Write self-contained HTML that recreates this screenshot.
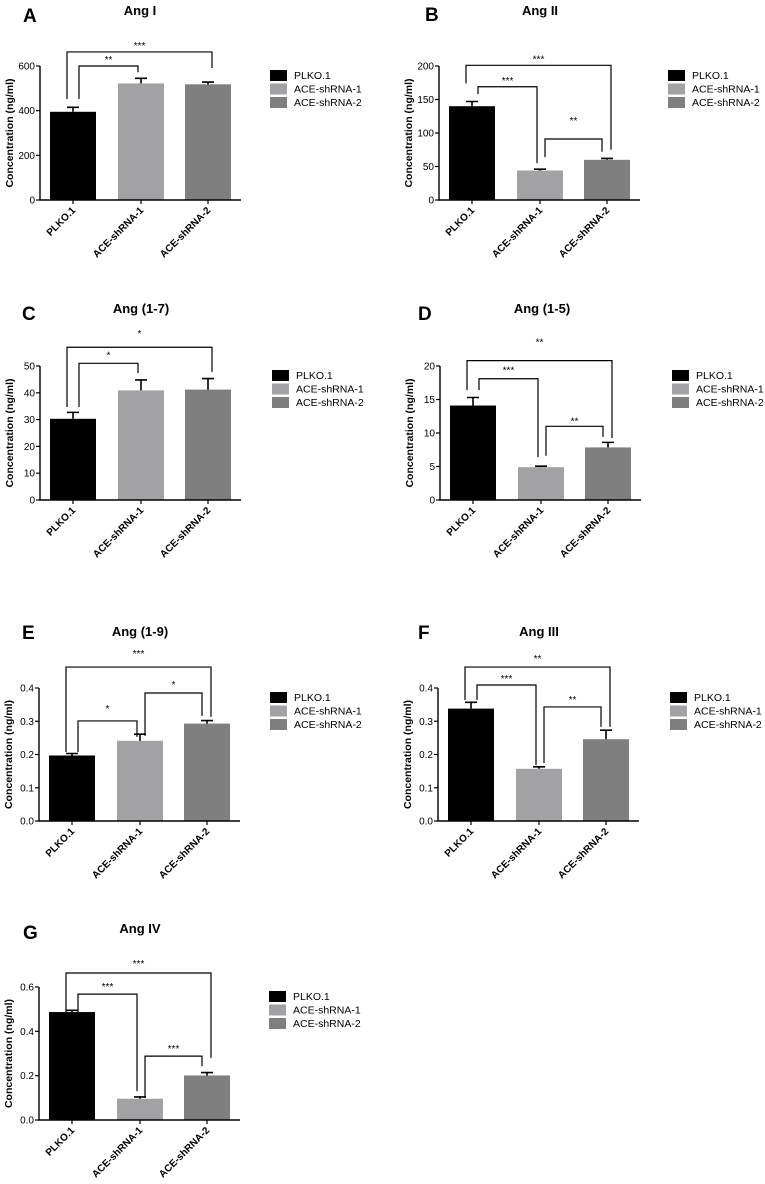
<!DOCTYPE html>
<html><head><meta charset="utf-8">
<style>
html,body{margin:0;padding:0;background:#fff;}
svg{display:block;font-family:"Liberation Sans",Arial,sans-serif;}
</style></head>
<body>
<svg id="fig" width="765" height="1184" viewBox="0 0 765 1184" xmlns="http://www.w3.org/2000/svg"></svg>
<script>
const categories = ["PLKO.1","ACE-shRNA-1","ACE-shRNA-2"];
const panelLetters = ["A","B","C","D","E","F","G"];
const panelTitles = ["Ang I","Ang II","Ang (1-7)","Ang (1-5)","Ang (1-9)","Ang III","Ang IV"];
const meansA = [395,522,518];   const errA = [415,545,528];
const meansB = [140,44,60];     const errB = [147,46,62];
const meansC = [30.3,40.9,41.2]; const errC = [32.7,44.8,45.3];
const meansD = [14.1,4.9,7.85]; const errD = [15.3,5.05,8.6];
const meansE = [0.197,0.241,0.293]; const errE = [0.203,0.261,0.302];
const meansF = [0.338,0.157,0.246]; const errF = [0.357,0.163,0.273];
const meansG = [0.487,0.096,0.201]; const errG = [0.495,0.104,0.214];
const ticksA = [0,200,400,600];
const ticksB = [0,50,100,150,200];
const ticksC = [0,10,20,30,40,50];
const ticksD = [0,5,10,15,20];
const ticksE = [0,0.1,0.2,0.3,0.4];
const ticksF = [0,0.1,0.2,0.3,0.4];
const ticksG = [0,0.2,0.4,0.6];
const tickLabelsE = ["0.0","0.1","0.2","0.3","0.4"];
const tickLabelsG = ["0.0","0.2","0.4","0.6"];
// brackets: [from, to, top value, left drop value, right drop value, label]
const bracketsA = [[0,2,663,452,591,"***"],[0,1,600,452,572,"**"]];
const bracketsB = [[0,2,201,174,75,"***"],[0,1,169,158,55,"***"],[1,2,91,64,72,"**"]];
const bracketsC = [[0,2,57,34.7,47.8,"*"],[0,1,51,34.7,47.4,"*"]];
const bracketsD = [[0,2,20.8,16.4,9.25,"**"],[0,1,18.1,16.4,6.4,"***"],[1,2,11.0,6.6,9.4,"**"]];
const bracketsE = [[0,2,0.463,0.207,0.313,"***"],[0,1,0.301,0.207,0.253,"*"],[1,2,0.385,0.256,0.316,"*"]];
const bracketsF = [[0,2,0.463,0.364,0.283,"**"],[0,1,0.409,0.364,0.168,"***"],[1,2,0.343,0.174,0.283,"**"]];
const bracketsG = [[0,2,0.663,0.487,0.28,"***"],[0,1,0.568,0.487,0.13,"***"],[1,2,0.288,0.1,0.243,"***"]];

const colors = ["#000000","#a2a2a4","#7f7f7f"];
const NS="http://www.w3.org/2000/svg";
const svg=document.getElementById('fig');
function mk(tag,attrs,parent){const e=document.createElementNS(NS,tag);for(const k in attrs)e.setAttribute(k,attrs[k]);(parent||svg).appendChild(e);return e;}

const layouts=[
 {ax:40,y0:200,yTop:66,lx:270,ly:75,tx:140,ty:10,Lx:23,Ly:15, means:meansA,err:errA,ticks:ticksA,tl:null,br:bracketsA,labelGaps:[7,7]},
 {ax:439,y0:200,yTop:66,lx:668,ly:75,tx:540,ty:10,Lx:425,Ly:14, means:meansB,err:errB,ticks:ticksB,tl:null,br:bracketsB,labelGaps:[7,7,19]},
 {ax:40,y0:500,yTop:366,lx:272,ly:375,tx:141,ty:308,Lx:22,Ly:313, means:meansC,err:errC,ticks:ticksC,tl:null,br:bracketsC,labelGaps:[14,9]},
 {ax:440,y0:500,yTop:366,lx:672,ly:375,tx:542,ty:308,Lx:418,Ly:313, means:meansD,err:errD,ticks:ticksD,tl:null,br:bracketsD,labelGaps:[19,9,6]},
 {ax:39,y0:821,yTop:688,lx:270,ly:697,tx:140,ty:631,Lx:22,Ly:632, means:meansE,err:errE,ticks:ticksE,tl:tickLabelsE,br:bracketsE,labelGaps:[14,13,9]},
 {ax:438,y0:821,yTop:688,lx:670,ly:697,tx:539,ty:631,Lx:418,Ly:632, means:meansF,err:errF,ticks:ticksF,tl:tickLabelsE,br:bracketsF,labelGaps:[9,7,8]},
 {ax:39,y0:1120,yTop:987,lx:269,ly:996,tx:140,ty:928,Lx:23,Ly:932, means:meansG,err:errG,ticks:ticksG,tl:tickLabelsG,br:bracketsG,labelGaps:[10,8,8]}
];
const barOff=[10,78,145], bw=46;
const offsL={"0-2":-6,"0-1":6,"1-2":5};
const offsR={"0-2":4,"0-1":-3,"1-2":-5};

layouts.forEach((p,pi)=>{
  const g=mk('g',{});
  
  
  const tmax=p.ticks[p.ticks.length-1];
  const y=v=>p.y0-(v/tmax)*(p.y0-p.yTop);
  const cx=i=>p.ax+barOff[i]+bw/2;
  const L=mk('text',{x:p.Lx,y:p.Ly+7,'font-size':19,'font-weight':'bold'},g);L.textContent=panelLetters[pi];
  
  
  const T=mk('text',{x:p.tx,y:p.ty+5,'font-size':13,'font-weight':'bold','text-anchor':'middle'},g);T.textContent=panelTitles[pi];
  
  
  // bars
  p.means.forEach((m,i)=>{
    const r=mk('rect',{x:p.ax+barOff[i],y:y(m),width:bw,height:p.y0-y(m),fill:colors[i]},g);
    
    
    const e=mk('path',{d:`M${cx(i)} ${y(m)}V${y(p.err[i])}M${cx(i)-6} ${y(p.err[i])}H${cx(i)+6}`,stroke:'#000','stroke-width':1.6,fill:'none'},g);
    
    
  });
  // axes
  const ya=mk('path',{d:`M${p.ax} ${p.yTop}V${p.y0}H${p.ax+201}`,stroke:'#000','stroke-width':1.4,fill:'none'},g);
  
  
  p.ticks.forEach((t,k)=>{
    mk('line',{x1:p.ax-4,x2:p.ax,y1:y(t),y2:y(t),stroke:'#000','stroke-width':1.2},g);
    const tx=mk('text',{x:p.ax-5,y:y(t)+3.5,'font-size':10,'text-anchor':'end'},g);
    tx.textContent=p.tl?p.tl[k]:String(t);
    
    
  });
  categories.forEach((c,i)=>{
    mk('line',{x1:cx(i),x2:cx(i),y1:p.y0,y2:p.y0+4,stroke:'#000','stroke-width':1.2},g);
    const t=mk('text',{x:cx(i)+3,y:p.y0+11,'font-size':10,'font-weight':'bold','text-anchor':'end',transform:`rotate(-45 ${cx(i)+3} ${p.y0+11})`},g);
    t.textContent=c;
    
    
  });
  const yt=mk('text',{x:0,y:0,'font-size':10.5,'font-weight':'bold','text-anchor':'middle',transform:`translate(${p.ax-27},${(p.y0+p.yTop)/2}) rotate(-90)`},g);
  yt.textContent='Concentration (ng/ml)';
  
  
  // brackets
  p.br.forEach((b,k)=>{
    const key=b[0]+'-'+b[1];
    const x1=cx(b[0])+offsL[key], x2=cx(b[1])+offsR[key];
    const bp=mk('path',{d:`M${x1} ${y(b[3])}V${y(b[2])}H${x2}V${y(b[4])}`,stroke:'#000','stroke-width':1.2,fill:'none'},g);
    
    
    const st=mk('text',{x:(x1+x2)/2,y:y(b[2])-p.labelGaps[k]+4,'font-size':10,'text-anchor':'middle'},g);
    st.textContent=b[5];
    
    
  });
  // legend
  categories.forEach((c,i)=>{
    const ly=p.ly+i*13.5;
    const r=mk('rect',{x:p.lx,y:ly-5,width:17,height:11,fill:colors[i]},g);
    
    
    const t=mk('text',{x:p.lx+24,y:ly+4,'font-size':10.5},g);
    t.textContent=c;
    
    
  });
});
</script>
</body></html>
